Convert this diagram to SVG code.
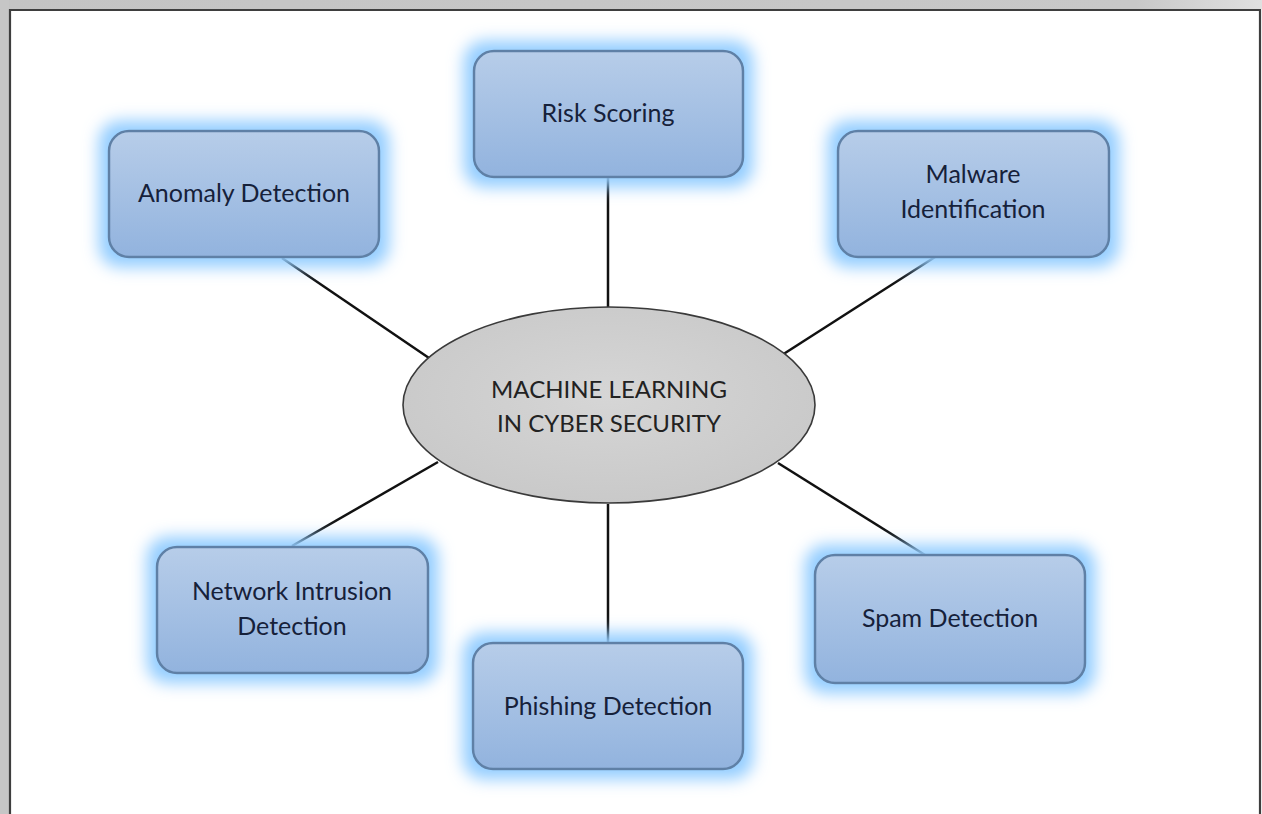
<svg xmlns="http://www.w3.org/2000/svg" width="1262" height="814" viewBox="0 0 1262 814">
<defs>
<linearGradient id="boxg" x1="0" y1="0" x2="0" y2="1">
<stop offset="0" stop-color="#b7cde9"/>
<stop offset="1" stop-color="#92b3de"/>
</linearGradient>
<linearGradient id="topbar" x1="0" y1="0" x2="1" y2="0">
<stop offset="0" stop-color="#c4c4c4"/>
<stop offset="0.9" stop-color="#c8c8c8"/>
<stop offset="1" stop-color="#e0e0e0"/>
</linearGradient>
<radialGradient id="ellg" cx="0.5" cy="0.45" r="0.6">
<stop offset="0" stop-color="#d6d6d6"/>
<stop offset="1" stop-color="#c8c8c8"/>
</radialGradient>
<filter id="glow" x="-25%" y="-45%" width="150%" height="190%">
<feMorphology in="SourceAlpha" operator="dilate" radius="9" result="d"/>
<feGaussianBlur in="d" stdDeviation="8" result="b"/>
<feFlood flood-color="#93cdff" result="c"/>
<feComposite in="c" in2="b" operator="in" result="g"/>
<feMerge><feMergeNode in="g"/><feMergeNode in="SourceGraphic"/></feMerge>
</filter>
</defs>
<style>
.box{fill:url(#boxg);stroke:#5f80a6;stroke-width:2.5;filter:url(#glow)}
.lbl{font-family:Lato,"Open Sans",sans-serif;font-size:25px;fill:#16213a;text-anchor:middle}
.ctr{font-family:Lato,"Open Sans",sans-serif;font-size:24px;fill:#222;text-anchor:middle}
.con line{stroke:#111;stroke-width:2.5}
</style>
<rect x="0" y="0" width="1262" height="814" fill="#ffffff"/>
<rect x="0" y="0" width="1262" height="9" fill="url(#topbar)"/>
<rect x="0" y="0" width="9" height="814" fill="#c6c6c6"/>
<path d="M10 814 V10 H1260 V814" fill="none" stroke="#3e3e3e" stroke-width="2.2"/>
<g id="connectors" class="con">
<line x1="608" y1="177" x2="608" y2="308"/>
<line x1="282" y1="258" x2="429" y2="358"/>
<line x1="935" y1="257" x2="782" y2="355"/>
<line x1="292" y1="546" x2="438" y2="462"/>
<line x1="925" y1="555" x2="778" y2="463"/>
<line x1="608" y1="504" x2="608" y2="643"/>
</g>
<g id="center">
<ellipse cx="609" cy="405" rx="206" ry="98" fill="url(#ellg)" stroke="#3a3a3a" stroke-width="1.6"/>
<text class="ctr" x="609" y="398">MACHINE LEARNING</text>
<text class="ctr" x="609" y="432">IN CYBER SECURITY</text>
</g>
<g id="risk">
<rect class="box" x="474" y="51" width="269" height="126" rx="20"/>
<text class="lbl" x="608" y="122">Risk Scoring</text>
</g>
<g id="anomaly">
<rect class="box" x="109" y="131" width="270" height="126" rx="20"/>
<text class="lbl" x="244" y="202">Anomaly Detection</text>
</g>
<g id="malware">
<rect class="box" x="838" y="131" width="271" height="126" rx="20"/>
<text class="lbl" x="973" y="183">Malware</text>
<text class="lbl" x="973" y="218">Identification</text>
</g>
<g id="network">
<rect class="box" x="157" y="547" width="271" height="126" rx="20"/>
<text class="lbl" x="292" y="600">Network Intrusion</text>
<text class="lbl" x="292" y="635">Detection</text>
</g>
<g id="spam">
<rect class="box" x="815" y="555" width="270" height="128" rx="20"/>
<text class="lbl" x="950" y="627">Spam Detection</text>
</g>
<g id="phishing">
<rect class="box" x="473" y="643" width="270" height="126" rx="20"/>
<text class="lbl" x="608" y="715">Phishing Detection</text>
</g>
</svg>
